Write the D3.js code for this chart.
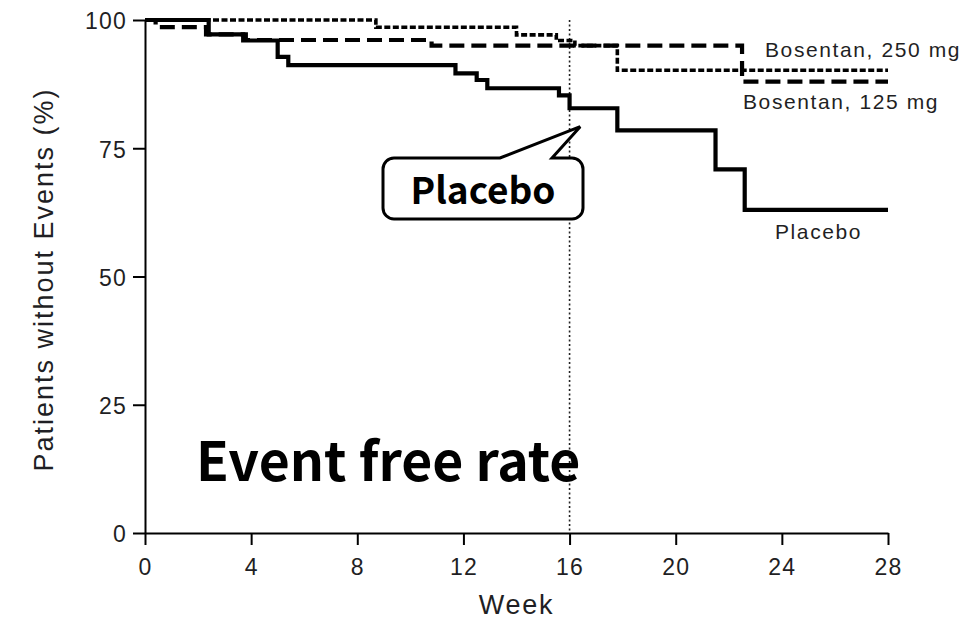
<!DOCTYPE html>
<html>
<head>
<meta charset="utf-8">
<script src="https://cdn.jsdelivr.net/npm/d3@7"></script>
<style>
  html, body { margin: 0; padding: 0; background: #fff; }
  svg { display: block; }
  .axis text { font-family: "Liberation Sans", Arial, sans-serif; font-size: 23px; fill: #1f1f24; letter-spacing: 1.2px; }
  .axis path, .axis line { stroke: #000; stroke-width: 2px; }
</style>
</head>
<body>
<div id="chart"></div>
<script>
// Kaplan-Meier style step data
const placeboWeeks = [0, 2.4, 3.7, 5.0, 5.4, 11.7, 12.5, 12.9, 15.6, 16.0, 17.8, 21.5, 22.6, 28];
const placeboPct = [100, 97.2, 96.0, 92.8, 91.2, 89.6, 88.3, 86.7, 85.3, 82.8, 78.5, 70.9, 63.0, 63.0];

const dashedWeeks = [0, 0.4, 2.3, 3.8, 10.8, 22.5, 28];
const dashedPct = [100, 98.6, 97.2, 96.1, 95.0, 88.0, 88.0];

const dottedWeeks = [0, 8.7, 14.0, 15.5, 16.2, 17.8, 28];
const dottedPct = [100, 98.6, 97.1, 96.0, 95.0, 90.2, 90.2];

const xTicks = [0, 4, 8, 12, 16, 20, 24, 28];
const yTicks = [0, 25, 50, 75, 100];
const markerWeek = 16;

const seriesLabels = ['Bosentan, 250 mg', 'Bosentan, 125 mg', 'Placebo'];

const width = 965;
const height = 622;

const svg = d3.select('#chart').append('svg')
  .attr('width', width)
  .attr('height', height);

const x = d3.scaleLinear().domain([0, 28]).range([145, 888]);
const y = d3.scaleLinear().domain([0, 100]).range([533, 20]);

// axes
svg.append('g')
  .attr('class', 'axis')
  .attr('transform', 'translate(0,' + y(0) + ')')
  .call(d3.axisBottom(x).tickValues(xTicks).tickSize(12).tickSizeOuter(0).tickPadding(8))
  .selectAll('text').attr('dy', '0.95em');

svg.append('g')
  .attr('class', 'axis')
  .attr('transform', 'translate(' + x(0) + ',0)')
  .call(d3.axisLeft(y).tickValues(yTicks).tickSize(12).tickSizeOuter(0).tickPadding(6))
  .selectAll('text').attr('dy', '0.38em');

// axis titles
svg.append('text')
  .text('Week')
  .attr('x', (x(0) + x(28)) / 2)
  .attr('y', 614)
  .style('font-family', '"Liberation Sans", Arial, sans-serif')
  .style('font-size', '27px')
  .style('letter-spacing', '1.8px')
  .style('fill', '#1f1f24')
  .style('text-anchor', 'middle');

svg.append('text')
  .text('Patients without Events (%)')
  .attr('transform', 'translate(53,' + ((y(0) + y(100)) / 2 + 3) + ') rotate(-90)')
  .style('font-family', '"Liberation Sans", Arial, sans-serif')
  .style('font-size', '27px')
  .style('letter-spacing', '2px')
  .style('fill', '#1f1f24')
  .style('text-anchor', 'middle');

// week 16 reference line
svg.append('line')
  .attr('x1', x(markerWeek)).attr('x2', x(markerWeek))
  .attr('y1', y(100)).attr('y2', y(0))
  .attr('stroke', '#222')
  .attr('stroke-width', 1.6)
  .attr('stroke-dasharray', '2,2.5');

// curves
const line = d3.line()
  .x(d => x(d[0]))
  .y(d => y(d[1]))
  .curve(d3.curveStepAfter);

const curves = [
  { weeks: dottedWeeks, pct: dottedPct, width: 3.6, dash: '6,2.5' },
  { weeks: dashedWeeks, pct: dashedPct, width: 4.2, dash: '15,7' },
  { weeks: placeboWeeks, pct: placeboPct, width: 4.2, dash: null }
];

svg.selectAll('.curve')
  .data(curves)
  .enter()
  .append('path')
  .attr('class', 'curve')
  .attr('d', c => line(d3.zip(c.weeks, c.pct)))
  .attr('fill', 'none')
  .attr('stroke', '#000')
  .attr('stroke-width', c => c.width)
  .attr('stroke-dasharray', c => c.dash);

// curve labels
const labelPos = [[765, 57], [743, 109], [775, 239]];
svg.selectAll('.curve-label')
  .data(seriesLabels)
  .enter()
  .append('text')
  .attr('class', 'curve-label')
  .text(d => d)
  .attr('x', (d, i) => labelPos[i][0])
  .attr('y', (d, i) => labelPos[i][1])
  .style('font-family', '"Liberation Sans", Arial, sans-serif')
  .style('font-size', '21px')
  .style('letter-spacing', '1.6px')
  .style('fill', '#1f1f24');

// callout bubble pointing at the placebo curve
const bx0 = 383, bx1 = 583, by0 = 158, by1 = 219, r = 11;
const tipX = x(16.4), tipY = y(79.2);
const bubble = d3.path();
bubble.moveTo(bx0 + r, by0);
bubble.lineTo(500, by0);
bubble.lineTo(tipX, tipY);
bubble.lineTo(552, by0);
bubble.lineTo(bx1 - r, by0);
bubble.arcTo(bx1, by0, bx1, by0 + r, r);
bubble.lineTo(bx1, by1 - r);
bubble.arcTo(bx1, by1, bx1 - r, by1, r);
bubble.lineTo(bx0 + r, by1);
bubble.arcTo(bx0, by1, bx0, by1 - r, r);
bubble.lineTo(bx0, by0 + r);
bubble.arcTo(bx0, by0, bx0 + r, by0, r);
bubble.closePath();

svg.append('path')
  .attr('d', bubble.toString())
  .attr('fill', '#fff')
  .attr('stroke', '#000')
  .attr('stroke-width', 3)
  .attr('stroke-linejoin', 'miter');

svg.append('text')
  .text('Placebo')
  .attr('x', (bx0 + bx1) / 2)
  .attr('y', 204)
  .style('font-family', '"Noto Sans CJK JP", "Noto Sans", sans-serif')
  .style('font-weight', 'bold')
  .style('font-size', '37px')
  .style('fill', '#000')
  .style('text-anchor', 'middle');

svg.append('text')
  .text('Event free rate')
  .attr('x', 196)
  .attr('y', 481)
  .style('font-family', '"Noto Sans CJK JP", "Noto Sans", sans-serif')
  .style('font-weight', 'bold')
  .style('font-size', '53.5px')
  .style('fill', '#000');
</script>
</body>
</html>
